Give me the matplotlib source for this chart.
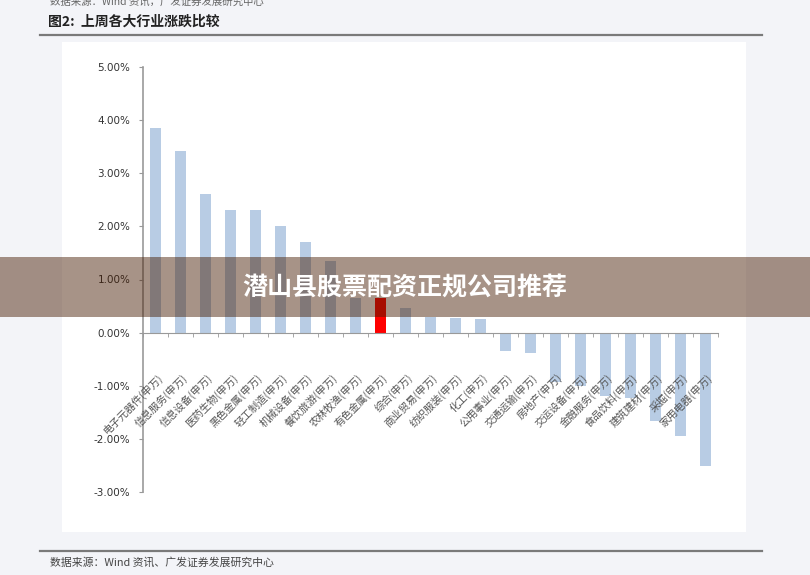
import matplotlib
matplotlib.use("Agg")
import matplotlib.pyplot as plt
import numpy as np
from matplotlib.patches import Rectangle
from matplotlib.lines import Line2D

plt.rcParams["font.family"] = ["Noto Sans CJK SC", "DejaVu Sans"]

# 上周各大行业涨跌幅 (%)
industries = ["电子元器件", "信息服务", "信息设备", "医药生物", "黑色金属",
              "轻工制造", "机械设备", "餐饮旅游", "农林牧渔", "有色金属",
              "综合", "商业贸易", "纺织服装", "化工", "公用事业",
              "交通运输", "房地产", "交运设备", "金融服务", "食品饮料",
              "建筑建材", "采掘", "家用电器"]
changes = [3.85, 3.41, 2.61, 2.30, 2.30,
           2.01, 1.70, 1.34, 0.66, 0.65,
           0.46, 0.29, 0.28, 0.26, -0.35,
           -0.38, -0.93, -1.00, -1.20, -1.23,
           -1.67, -1.95, -2.51]
highlight = "有色金属"
y_ticks = [5, 4, 3, 2, 1, 0, -1, -2, -3]

title = "图2:  上周各大行业涨跌比较"
source = "数据来源：Wind 资讯、广发证券发展研究中心"
banner = "潜山县股票配资正规公司推荐"

W, H = 810, 575
BLUE = "#b8cce4"
RED = "#ff0000"


def fx(px):
    return px / W


def fy(py):
    return 1 - py / H


fig = plt.figure(figsize=(W / 100, H / 100), dpi=100)
fig.patch.set_facecolor("#f3f4f8")

# white chart panel
fig.add_artist(Rectangle((fx(62), fy(532)), fx(746) - fx(62), fy(42) - fy(532),
                         transform=fig.transFigure, facecolor="white",
                         edgecolor="none", zorder=-1))

# header / footer rules
for yy in (35, 551):
    fig.add_artist(Line2D([fx(40), fx(762)], [fy(yy), fy(yy)],
                          transform=fig.transFigure, color="#7a7a7a", lw=1.6))

# cut-off source line from the previous figure at the very top
fig.text(fx(50), fy(2), "数据来源：Wind 资讯，广发证券发展研究中心",
         fontsize=7.5, color="#666666", ha="left", va="center")
fig.text(fx(48), fy(22), title, fontsize=10, fontweight="bold",
         color="#222222", ha="left", va="center")
fig.text(fx(50), fy(563), source, fontsize=7.8, color="#444444",
         ha="left", va="center")

ax = fig.add_axes([fx(143), fy(492), fx(718) - fx(143), fy(67) - fy(492)])
ax.set_facecolor("none")

x = np.arange(len(industries))
colors = [RED if name == highlight else BLUE for name in industries]
ax.bar(x, changes, width=0.45, color=colors, zorder=2)

ax.set_xlim(-0.5, len(industries) - 0.5)
ax.set_ylim(-3, 5)
ax.set_yticks(y_ticks)
ax.set_yticklabels([f"{v:.2f}%" for v in y_ticks], fontsize=7.5,
                   color="#333333", family="DejaVu Sans")
ax.tick_params(axis="y", direction="out", length=3, color="#999999", pad=6)

ax.set_xticks([])
ax.set_xticks(np.arange(-0.5, len(industries), 1), minor=True)
ax.tick_params(axis="x", which="minor", direction="out", length=3,
               color="#999999")

for s in ("top", "right"):
    ax.spines[s].set_visible(False)
ax.spines["bottom"].set_position(("data", 0))
ax.spines["bottom"].set_color("#999999")
ax.spines["left"].set_color("#999999")
ax.spines["left"].set_linewidth(1.2)

for i, name in enumerate(industries):
    ax.text(i + 0.05, -0.74, f"{name}(申万)", rotation=45,
            rotation_mode="anchor", ha="right", va="top",
            fontsize=7.5, color="#555555", zorder=3)

# watermark banner
fig.add_artist(Rectangle((0, fy(317)), 1, fy(257) - fy(317),
                         transform=fig.transFigure,
                         facecolor=(0.27, 0.10, 0.0, 0.47),
                         edgecolor="none", zorder=10))
fig.text(fx(405), fy(288), banner, fontsize=18, fontweight="bold",
         color="white", ha="center", va="center", zorder=11)

fig.savefig("out.png", dpi=100)
